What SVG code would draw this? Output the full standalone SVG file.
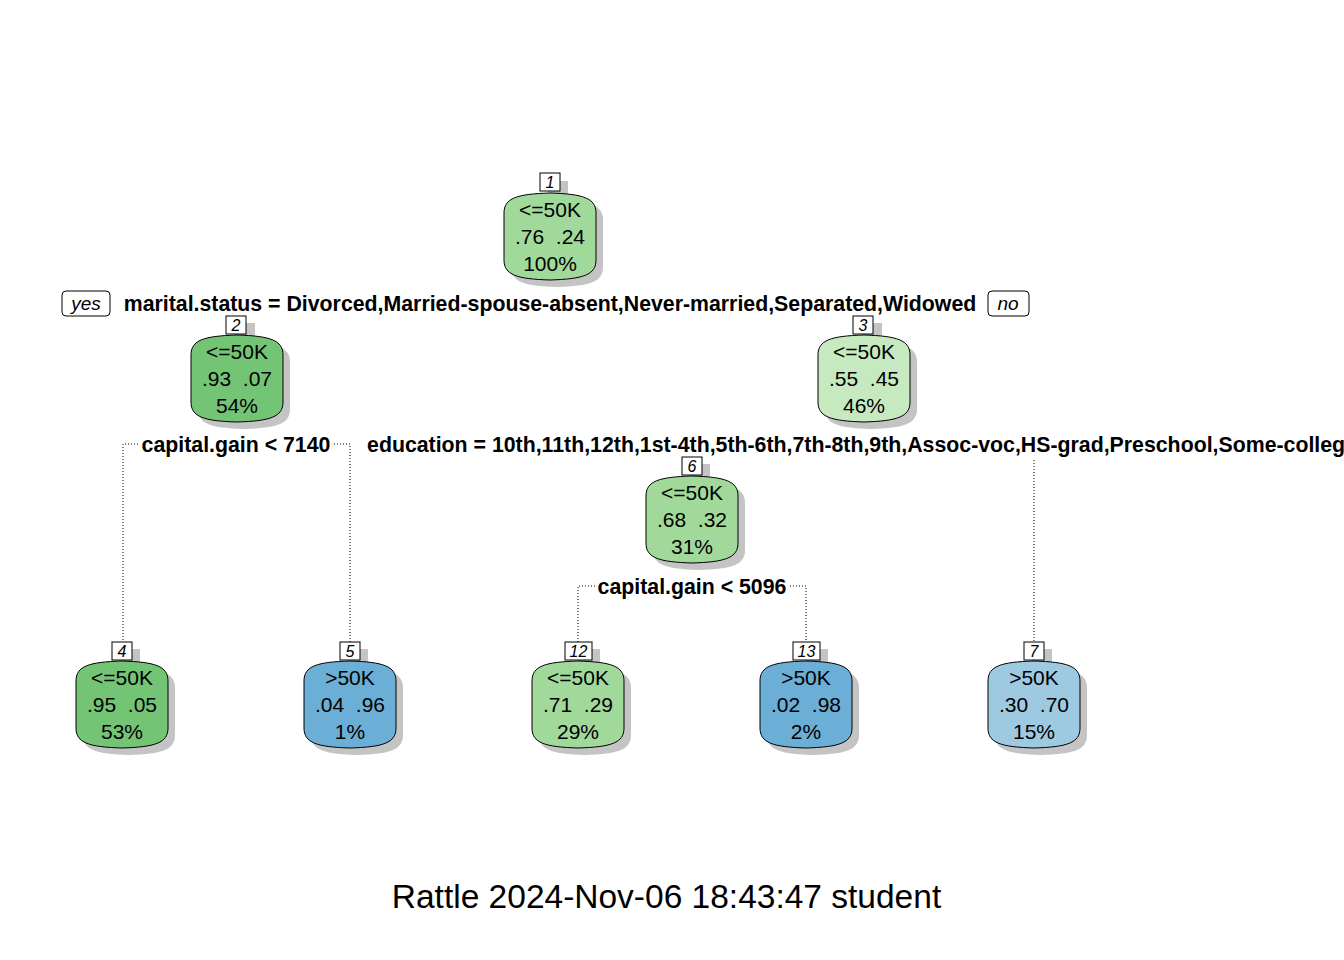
<svg xmlns="http://www.w3.org/2000/svg" xmlns:xlink="http://www.w3.org/1999/xlink" width="1344" height="960" viewBox="0 0 1344 960">
<style>
  .nt{font-family:"Liberation Sans",Arial,sans-serif;font-size:21px;fill:#000;text-anchor:middle}
  .num{font-family:"Liberation Sans",Arial,sans-serif;font-size:16px;font-style:italic;fill:#000;text-anchor:middle}
  .split{font-family:"Liberation Sans",Arial,sans-serif;font-size:21.3px;font-weight:bold;fill:#000;text-anchor:middle}
  .yn{font-family:"Liberation Sans",Arial,sans-serif;font-size:19px;font-style:italic;fill:#000;text-anchor:middle}
  .title{font-family:"Liberation Sans",Arial,sans-serif;font-size:33.5px;fill:#000;text-anchor:middle}
  .numbox{fill:#fff;stroke:#000;stroke-width:1}
  .shadow{fill:#c4c4c4}
  .body{stroke:#000;stroke-width:1}
  .conn{fill:none;stroke:#000;stroke-width:1;stroke-dasharray:1,2}
</style>
<defs>
  <path id="nodeshape" d="M0,20 C0,5 13,1 46,0 C79,1 92,5 92,20 L92,67 C92,82 79,86 46,87 C13,86 0,82 0,67 Z"/>
</defs>
<rect width="1344" height="960" fill="#fff"/>

<g id="connectors">
  <polyline class="conn" points="138,444 123,444 123,642"/>
  <polyline class="conn" points="334,444 350,444 350,642"/>
  <polyline class="conn" points="595,586 578,586 578,642"/>
  <polyline class="conn" points="790,586 806,586 806,642"/>
  <polyline class="conn" points="1034,460 1034,642"/>
</g>

<g id="splits">
  <g id="yes-label">
    <rect x="62" y="291" width="48" height="25" rx="4" fill="#fff" stroke="#000"/>
    <text class="yn" x="86" y="310">yes</text>
  </g>
  <g id="no-label">
    <rect x="988" y="291" width="41" height="25" rx="4" fill="#fff" stroke="#000"/>
    <text class="yn" x="1008" y="310">no</text>
  </g>
  <text id="split1" class="split" x="550" y="311">marital.status = Divorced,Married-spouse-absent,Never-married,Separated,Widowed</text>
  <text id="split2" class="split" x="236" y="452">capital.gain &lt; 7140</text>
  <text id="split3" class="split" x="862" y="452">education = 10th,11th,12th,1st-4th,5th-6th,7th-8th,9th,Assoc-voc,HS-grad,Preschool,Some-college</text>
  <text id="split6" class="split" x="692" y="594">capital.gain &lt; 5096</text>
</g>

<g id="node1" transform="translate(504,193)">
  <rect class="shadow" x="44" y="-12" width="20" height="18"/>
  <use xlink:href="#nodeshape" class="shadow" transform="translate(7,7)"/>
  <use xlink:href="#nodeshape" class="body" fill="#a1d99b"/>
  <rect class="numbox" x="36" y="-20" width="20" height="18"/>
  <text class="num" x="46" y="-5">1</text>
  <text class="nt" x="46" y="24">&lt;=50K</text>
  <text class="nt" x="46" y="51" xml:space="preserve">.76  .24</text>
  <text class="nt" x="46" y="78">100%</text>
</g>

<g id="node2" transform="translate(191,335)">
  <rect class="shadow" x="44" y="-12" width="20" height="18"/>
  <use xlink:href="#nodeshape" class="shadow" transform="translate(7,7)"/>
  <use xlink:href="#nodeshape" class="body" fill="#74c476"/>
  <rect class="numbox" x="35" y="-19" width="20" height="18"/>
  <text class="num" x="45" y="-4">2</text>
  <text class="nt" x="46" y="24">&lt;=50K</text>
  <text class="nt" x="46" y="51" xml:space="preserve">.93  .07</text>
  <text class="nt" x="46" y="78">54%</text>
</g>

<g id="node3" transform="translate(818,335)">
  <rect class="shadow" x="44" y="-12" width="20" height="18"/>
  <use xlink:href="#nodeshape" class="shadow" transform="translate(7,7)"/>
  <use xlink:href="#nodeshape" class="body" fill="#c7e9c0"/>
  <rect class="numbox" x="35" y="-19" width="20" height="18"/>
  <text class="num" x="45" y="-4">3</text>
  <text class="nt" x="46" y="24">&lt;=50K</text>
  <text class="nt" x="46" y="51" xml:space="preserve">.55  .45</text>
  <text class="nt" x="46" y="78">46%</text>
</g>

<g id="node6" transform="translate(646,476)">
  <rect class="shadow" x="44" y="-12" width="20" height="18"/>
  <use xlink:href="#nodeshape" class="shadow" transform="translate(7,7)"/>
  <use xlink:href="#nodeshape" class="body" fill="#a1d99b"/>
  <rect class="numbox" x="36" y="-19" width="20" height="18"/>
  <text class="num" x="46" y="-4">6</text>
  <text class="nt" x="46" y="24">&lt;=50K</text>
  <text class="nt" x="46" y="51" xml:space="preserve">.68  .32</text>
  <text class="nt" x="46" y="78">31%</text>
</g>

<g id="node4" transform="translate(76,661)">
  <rect class="shadow" x="44" y="-12" width="20" height="18"/>
  <use xlink:href="#nodeshape" class="shadow" transform="translate(7,7)"/>
  <use xlink:href="#nodeshape" class="body" fill="#74c476"/>
  <rect class="numbox" x="36" y="-19" width="20" height="18"/>
  <text class="num" x="46" y="-4">4</text>
  <text class="nt" x="46" y="24">&lt;=50K</text>
  <text class="nt" x="46" y="51" xml:space="preserve">.95  .05</text>
  <text class="nt" x="46" y="78">53%</text>
</g>

<g id="node5" transform="translate(304,661)">
  <rect class="shadow" x="44" y="-12" width="20" height="18"/>
  <use xlink:href="#nodeshape" class="shadow" transform="translate(7,7)"/>
  <use xlink:href="#nodeshape" class="body" fill="#6baed6"/>
  <rect class="numbox" x="36" y="-19" width="20" height="18"/>
  <text class="num" x="46" y="-4">5</text>
  <text class="nt" x="46" y="24">&gt;50K</text>
  <text class="nt" x="46" y="51" xml:space="preserve">.04  .96</text>
  <text class="nt" x="46" y="78">1%</text>
</g>

<g id="node12" transform="translate(532,661)">
  <rect class="shadow" x="46" y="-12" width="22" height="18"/>
  <use xlink:href="#nodeshape" class="shadow" transform="translate(7,7)"/>
  <use xlink:href="#nodeshape" class="body" fill="#a1d99b"/>
  <rect class="numbox" x="33" y="-19" width="27" height="18"/>
  <text class="num" x="46.5" y="-4">12</text>
  <text class="nt" x="46" y="24">&lt;=50K</text>
  <text class="nt" x="46" y="51" xml:space="preserve">.71  .29</text>
  <text class="nt" x="46" y="78">29%</text>
</g>

<g id="node13" transform="translate(760,661)">
  <rect class="shadow" x="46" y="-12" width="22" height="18"/>
  <use xlink:href="#nodeshape" class="shadow" transform="translate(7,7)"/>
  <use xlink:href="#nodeshape" class="body" fill="#6baed6"/>
  <rect class="numbox" x="33" y="-19" width="27" height="18"/>
  <text class="num" x="46.5" y="-4">13</text>
  <text class="nt" x="46" y="24">&gt;50K</text>
  <text class="nt" x="46" y="51" xml:space="preserve">.02  .98</text>
  <text class="nt" x="46" y="78">2%</text>
</g>

<g id="node7" transform="translate(988,661)">
  <rect class="shadow" x="44" y="-12" width="20" height="18"/>
  <use xlink:href="#nodeshape" class="shadow" transform="translate(7,7)"/>
  <use xlink:href="#nodeshape" class="body" fill="#9ecae1"/>
  <rect class="numbox" x="36" y="-19" width="20" height="18"/>
  <text class="num" x="46" y="-4">7</text>
  <text class="nt" x="46" y="24">&gt;50K</text>
  <text class="nt" x="46" y="51" xml:space="preserve">.30  .70</text>
  <text class="nt" x="46" y="78">15%</text>
</g>

<text id="title" class="title" x="666.5" y="908">Rattle 2024-Nov-06 18:43:47 student</text>
</svg>
